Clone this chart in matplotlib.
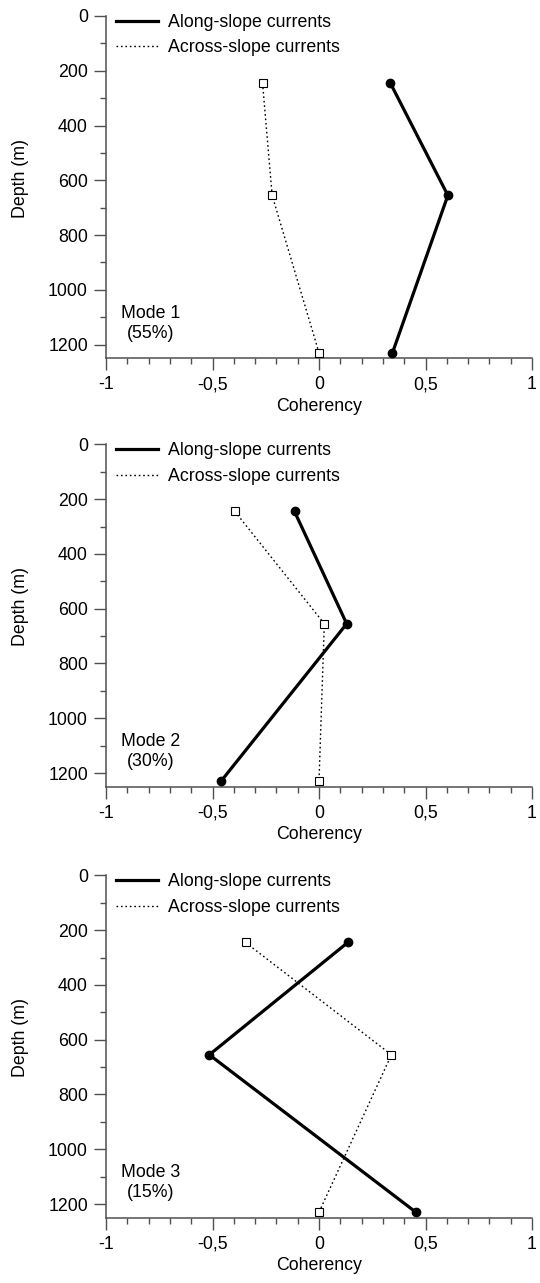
import matplotlib
matplotlib.use("Agg")
import matplotlib.pyplot as plt
from matplotlib.ticker import FixedLocator, MultipleLocator
from matplotlib.lines import Line2D

plt.rcParams['font.family'] = ['Liberation Sans', 'DejaVu Sans']

# ---- data ----
depth = [245, 655, 1230]
along = [
    [0.335, 0.605, 0.345],
    [-0.115, 0.13, -0.46],
    [0.135, -0.515, 0.455],
]
across = [
    [-0.265, -0.22, 0.0],
    [-0.395, 0.025, 0.0],
    [-0.345, 0.34, 0.0],
]
mode_labels = ["Mode 1\n(55%)", "Mode 2\n(30%)", "Mode 3\n(15%)"]
xticks = [-1, -0.5, 0, 0.5, 1]
xticklabels = ["-1", "-0,5", "0", "0,5", "1"]
yticks = [0, 200, 400, 600, 800, 1000, 1200]
yticklabels = ["0", "200", "400", "600", "800", "1000", "1200"]
series_names = ["Along-slope currents", "Across-slope currents"]

FS = 12.8
SPINE = '#505050'

fig = plt.figure(figsize=(5.40, 12.83), dpi=100)
left, width, height = 106/540, 426/540, 342.3/1283
bottoms = [1 - 358.3/1283, 1 - 786.7/1283, 1 - 1217.7/1283]

for i in range(3):
    ax = fig.add_axes([left, bottoms[i], width, height])
    ax.plot(across[i], depth, linestyle=(0, (1.2, 2.0)), color='black', lw=1.0,
            marker='s', markersize=5.2, markerfacecolor='white',
            markeredgecolor='black', markeredgewidth=0.8, zorder=3)
    ax.plot(along[i], depth, linestyle='-', color='black', lw=2.3,
            marker='o', markersize=6, markerfacecolor='black',
            markeredgecolor='black', zorder=4)

    ax.set_xlim(-1, 1)
    ax.set_ylim(1250, 0)
    for s in ['top', 'right']:
        ax.spines[s].set_visible(False)
    for s in ['left', 'bottom']:
        ax.spines[s].set_color(SPINE)
        ax.spines[s].set_linewidth(1.1)

    ax.xaxis.set_major_locator(FixedLocator(xticks))
    ax.set_xticklabels(xticklabels)
    ax.xaxis.set_minor_locator(MultipleLocator(0.1))
    ax.yaxis.set_major_locator(FixedLocator(yticks))
    ax.set_yticklabels(yticklabels)
    ax.yaxis.set_minor_locator(MultipleLocator(100))

    ax.tick_params(which='major', direction='out', length=8.5, width=1.0,
                   color=SPINE, labelsize=FS, pad=4.5)
    ax.tick_params(which='minor', direction='out', length=4.3, width=1.0,
                   color=SPINE)

    ax.set_xlabel("Coherency", fontsize=FS, labelpad=3)
    ax.set_ylabel("Depth (m)", fontsize=FS)
    ax.yaxis.set_label_coords(-0.181, 0.526)

    ax.text(-0.792, 1122, mode_labels[i], ha='center', va='center',
            fontsize=FS)

    handles = [
        Line2D([], [], color='black', lw=2.3, linestyle='-'),
        Line2D([], [], color='black', lw=1.0, linestyle=(0, (1.2, 2.0))),
    ]
    ax.legend(handles, series_names, loc='upper left',
              bbox_to_anchor=(0.0235, 1.006), borderaxespad=0, borderpad=0,
              frameon=False, fontsize=FS, handlelength=2.36,
              handletextpad=0.56, labelspacing=0.48)
    ax.patch.set_alpha(0)

fig.savefig("out.png", dpi=100)
